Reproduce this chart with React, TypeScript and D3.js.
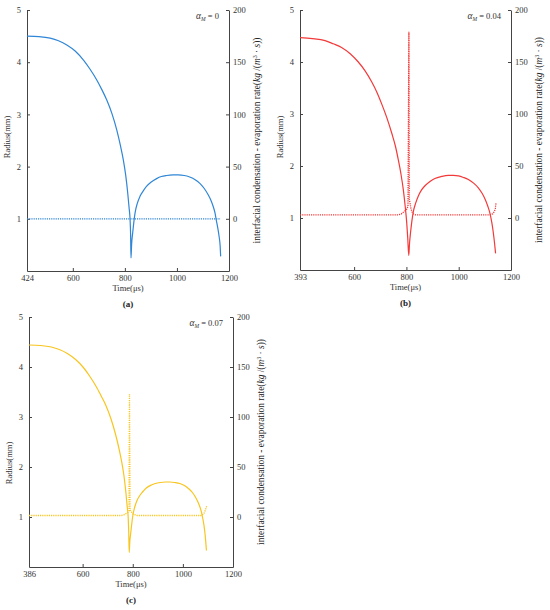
import * as d3 from 'd3'
import { useEffect, useRef } from 'react'

// time axes: each panel starts at its own first sample and ends at 1200 µs
const timeStarts = [424, 393, 386];
const timeEnd = 1200;
const timeTicks = [600, 800, 1000, 1200];
const radiusTicks = [1, 2, 3, 4, 5];
const rateTicks = [0, 50, 100, 150, 200];
const alphaValues = ['0', '0.04', '0.07'];
const panelLabels = ['(a)', '(b)', '(c)'];
const colors = ['#2f86d6', '#f23a3a', '#f8c51e'];

// [time(µs), radius(mm)]
const radiusA: [number, number][] = [
    [424, 4.50], [470, 4.49], [513, 4.46], [545, 4.41], [577, 4.33], [610, 4.21], [641, 4.04], [667, 3.86],
    [692, 3.66], [712, 3.47], [730, 3.28], [750, 3.02], [769, 2.70], [783, 2.40], [794, 2.13], [803, 1.84],
    [811, 1.49], [816, 1.22], [820, 0.98], [822, 0.70], [823.5, 0.25],
    [826, 0.52], [830, 0.73], [839, 1.11], [848, 1.30], [858, 1.43], [870, 1.53], [883, 1.62], [900, 1.70],
    [922, 1.77], [940, 1.81], [960, 1.83], [985, 1.84], [1005, 1.84], [1028, 1.83], [1049, 1.80], [1070, 1.75],
    [1088, 1.68], [1105, 1.58], [1120, 1.46], [1130, 1.36], [1139, 1.24], [1146, 1.12], [1151, 0.98],
    [1157, 0.82], [1162, 0.66], [1166, 0.48], [1168, 0.28],
];
const radiusB: [number, number][] = [
    [393, 4.47], [440, 4.45], [489, 4.41], [520, 4.35], [552, 4.28], [585, 4.16], [616, 4.00], [642, 3.83],
    [667, 3.62], [687, 3.42], [705, 3.20], [725, 2.93], [744, 2.63], [758, 2.38], [769, 2.12], [779, 1.85],
    [788, 1.55], [795, 1.24], [801, 0.92], [805, 0.62], [809, 0.28],
    [812, 0.52], [816, 0.73], [826, 1.11], [835, 1.28], [846, 1.43], [858, 1.54], [871, 1.62], [890, 1.70],
    [909, 1.76], [935, 1.80], [960, 1.82], [980, 1.82], [999, 1.81], [1018, 1.78], [1037, 1.74], [1057, 1.67],
    [1075, 1.58], [1090, 1.47], [1101, 1.36], [1111, 1.23], [1120, 1.08], [1127, 0.90], [1132, 0.73],
    [1137, 0.52], [1141, 0.32],
];
const radiusC: [number, number][] = [
    [386, 4.44], [432, 4.43], [475, 4.40], [507, 4.35], [539, 4.27], [572, 4.15], [603, 3.99], [629, 3.81],
    [654, 3.61], [674, 3.42], [692, 3.24], [712, 2.98], [731, 2.66], [745, 2.37], [756, 2.10], [765, 1.82],
    [773, 1.47], [778, 1.20], [782, 0.97], [784, 0.69], [786, 0.29],
    [788, 0.49], [792, 0.68], [800, 1.02], [808, 1.20], [817, 1.33], [828, 1.43], [839, 1.50], [854, 1.58],
    [874, 1.64], [890, 1.67], [910, 1.69], [930, 1.70], [948, 1.70], [968, 1.69], [988, 1.67], [1006, 1.63],
    [1022, 1.57], [1038, 1.49], [1051, 1.39], [1060, 1.30], [1068, 1.20], [1074, 1.10], [1079, 0.98],
    [1084, 0.84], [1088, 0.68], [1091, 0.52], [1094, 0.33],
];

// [time(µs), condensation - evaporation rate]
const rateA: [number, number][] = [[424, 0], [1168, 0]];
const rateB: [number, number][] = [
    [393, 3], [768, 3], [780, 3.8], [788, 5.5], [795, 7], [801, 8.6], [806, 11], [809.5, 179], [811, 18],
    [814, 14], [817, 9.5], [821, 6], [826, 4], [835, 3], [1120, 3], [1130, 4], [1136, 6], [1140, 9], [1143, 15],
];
const rateC: [number, number][] = [
    [386, 1.5], [755, 1.5], [765, 2.2], [776, 4], [782, 5], [785, 6], [787, 123], [789, 7], [792, 6],
    [801, 3], [817, 1.5], [1075, 1.5], [1084, 3.5], [1090, 7], [1095, 11],
];

const radiusSeries = [radiusA, radiusB, radiusC];
const rateSeries = [rateA, rateB, rateC];

// plot boxes in page pixels
const boxes = [
    { left: 27, right: 229, top: 10, bottom: 271, radiusLabelY: 137 },
    { left: 300, right: 511, top: 10, bottom: 270, radiusLabelY: 137 },
    { left: 29, right: 233, top: 317, bottom: 567, radiusLabelY: 463 },
];

const FONT = '"Liberation Serif", "Times New Roman", serif';
const INK = '#333';

const Panel = ({ idx }: { idx: number }) => {
    const ref = useRef<SVGGElement>(null);

    useEffect(() => {
        const box = boxes[idx];
        const g = d3.select(ref.current);
        g.selectAll('*').remove();

        const x = d3.scaleLinear().domain([timeStarts[idx], timeEnd]).range([box.left, box.right]);
        const yR = d3.scaleLinear().domain([0, 5]).range([box.bottom, box.top]);
        const yQ = d3.scaleLinear().domain([-50, 200]).range([box.bottom, box.top]);

        const styleAxis = (sel: d3.Selection<SVGGElement, unknown, null, undefined>) => {
            sel.attr('font-family', FONT).attr('font-size', 8.5);
            sel.selectAll('path, line').attr('stroke', '#444');
            sel.selectAll('text').attr('fill', INK);
        };

        g.append('g')
            .attr('transform', `translate(0,${box.bottom})`)
            .call(d3.axisBottom(x).tickValues([timeStarts[idx], ...timeTicks]).tickFormat(d3.format('d'))
                .tickSizeInner(-3).tickSizeOuter(0).tickPadding(4))
            .call(styleAxis);

        g.append('g')
            .attr('transform', `translate(${box.left},0)`)
            .call(d3.axisLeft(yR).tickValues(radiusTicks).tickFormat(d3.format('d'))
                .tickSizeInner(-3).tickSizeOuter(0).tickPadding(6))
            .call(styleAxis);

        g.append('g')
            .attr('transform', `translate(${box.right},0)`)
            .call(d3.axisRight(yQ).tickValues(rateTicks).tickFormat(d3.format('d'))
                .tickSizeInner(-3).tickSizeOuter(0).tickPadding(4))
            .call(styleAxis);

        const lineR = d3.line<[number, number]>()
            .x(d => x(d[0]))
            .y(d => yR(d[1]))
            .curve(d3.curveMonotoneX);

        const lineQ = d3.line<[number, number]>()
            .x(d => x(d[0]))
            .y(d => yQ(d[1]));

        // rate (dotted)
        g.append('path')
            .datum(rateSeries[idx])
            .attr('fill', 'none')
            .attr('stroke', colors[idx])
            .attr('stroke-width', 1.3)
            .attr('stroke-dasharray', '1.2,1')
            .attr('d', lineQ);

        // radius (solid)
        g.append('path')
            .datum(radiusSeries[idx])
            .attr('fill', 'none')
            .attr('stroke', colors[idx])
            .attr('stroke-width', 1.2)
            .attr('d', lineR);

        // axis titles
        const midX = (box.left + box.right) / 2;
        g.append('text')
            .attr('x', midX).attr('y', box.bottom + 20)
            .attr('text-anchor', 'middle').attr('font-family', FONT).attr('font-size', 8.5).attr('fill', INK)
            .text('Time(μs)');

        g.append('text')
            .attr('x', midX).attr('y', box.bottom + 36)
            .attr('text-anchor', 'middle').attr('font-family', FONT).attr('font-size', 9)
            .attr('font-weight', 'bold').attr('fill', '#222')
            .text(panelLabels[idx]);

        g.append('text')
            .attr('transform', `translate(${box.left - 17},${box.radiusLabelY}) rotate(-90)`)
            .attr('text-anchor', 'middle').attr('font-family', FONT).attr('font-size', 8.5).attr('fill', INK)
            .text('Radius(mm)');

        const midY = (box.top + box.bottom) / 2;
        const rt = g.append('text')
            .attr('transform', `translate(${box.right + 31},${midY}) rotate(-90)`)
            .attr('text-anchor', 'middle').attr('font-family', FONT).attr('font-size', 9.4).attr('fill', '#222');
        rt.append('tspan').text('interfacial condensation - evaporation rate(');
        rt.append('tspan').attr('font-style', 'italic').text('kg');
        rt.append('tspan').text(' /(');
        rt.append('tspan').attr('font-style', 'italic').text('m');
        rt.append('tspan').attr('font-size', 6).attr('dy', -3.5).text('3');
        rt.append('tspan').attr('dy', 3.5).text(' · ');
        rt.append('tspan').attr('font-style', 'italic').text('s');
        rt.append('tspan').text('))');

        // alpha label
        const at = g.append('text')
            .attr('x', box.right - 10).attr('y', box.top + 9)
            .attr('text-anchor', 'end').attr('font-family', FONT).attr('font-size', 8.5).attr('fill', INK);
        at.append('tspan').attr('font-style', 'italic').attr('font-size', 9.5).text('α');
        at.append('tspan').attr('font-style', 'italic').attr('font-size', 5.5).attr('dy', 2).text('M');
        at.append('tspan').attr('dy', -2).text(` = ${alphaValues[idx]}`);

        return () => {
            g.selectAll('*').remove();
        };
    }, [idx]);

    return <g ref={ref} />;
};

const App = () => {
    return (
        <svg width={550} height={610} style={{ position: 'absolute', left: 0, top: 0, background: '#fff' }}>
            <Panel idx={0} />
            <Panel idx={1} />
            <Panel idx={2} />
        </svg>
    );
};

export default App;
